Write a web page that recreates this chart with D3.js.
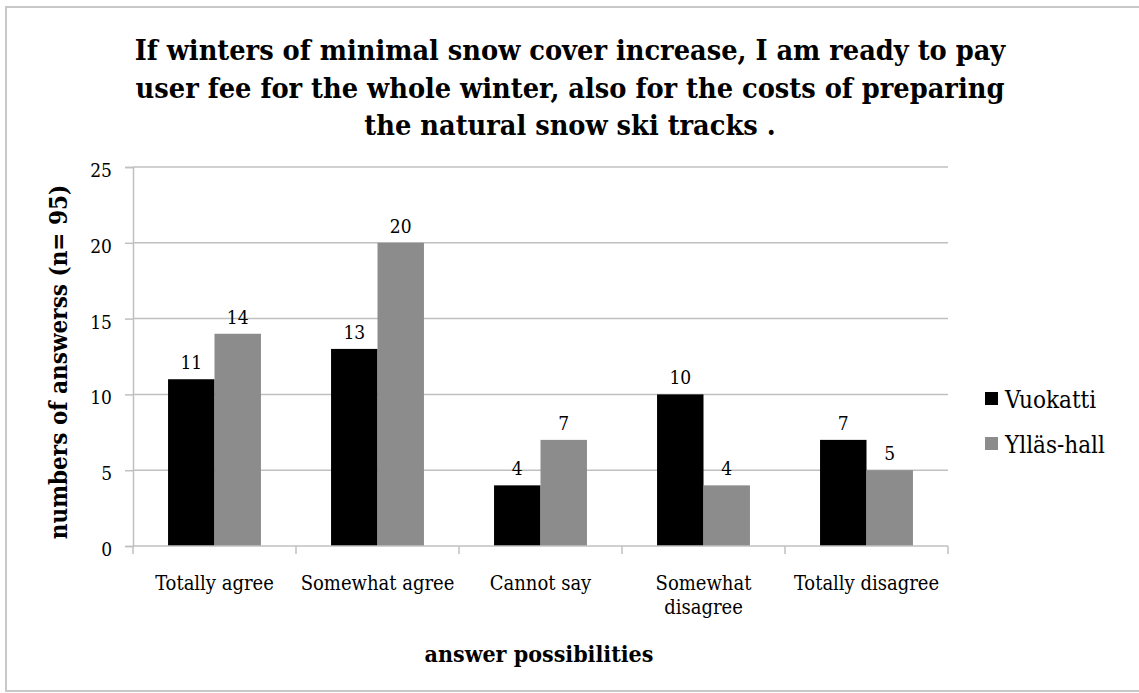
<!DOCTYPE html>
<html><head><meta charset="utf-8">
<script src="https://cdn.jsdelivr.net/npm/d3@7"></script>
<style>body{margin:0;background:#fff}svg{display:block}text{font-family:"DejaVu Serif Condensed","DejaVu Serif",serif;font-stretch:condensed}</style>
</head><body><svg id="c" width="1139" height="693"></svg>
<script>
const categories = [["Totally agree"],["Somewhat agree"],["Cannot say"],["Somewhat","disagree"],["Totally disagree"]];
const seriesNames = ["Vuokatti","Ylläs-hall"];
const vuokatti = [11,13,4,10,7];
const yllas = [14,20,7,4,5];
const yTicks = [0,5,10,15,20,25];
const titleLines = ["If winters of minimal snow cover increase, I am ready to pay","user fee for the whole winter, also for the costs of preparing","the natural snow ski tracks ."];
const colors = ["#000000","#8c8c8c"];

const svg = d3.select("#c");
svg.append("rect").attr("x",6).attr("y",7).attr("width",1140).attr("height",684).attr("fill","none").attr("stroke","#c8c8c8").attr("stroke-width",2);

const L=133,R=948,T=167,B=546;
const catKeys = categories.map(c=>c.join(" "));
const x = d3.scaleBand().domain(catKeys).range([L,R]).paddingInner(0.43).paddingOuter(0.215);
const xs = d3.scaleBand().domain(seriesNames).range([0,x.bandwidth()]);
const y = d3.scaleLinear().domain([0,25]).range([B,T]);

svg.append("g").selectAll("line").data(yTicks.filter(d=>d>0)).join("line")
 .attr("x1",L).attr("x2",R).attr("y1",d=>y(d)).attr("y2",d=>y(d)).attr("stroke","#c0c0c0").attr("stroke-width",1.5);

const ya = svg.append("g").attr("transform",`translate(${L},0)`).call(d3.axisLeft(y).tickValues(yTicks).tickSize(8).tickPadding(13));
ya.select(".domain").attr("stroke","#c0c0c0").attr("stroke-width",1.5);
ya.selectAll(".tick line").attr("stroke","#c0c0c0").attr("stroke-width",1.5);
ya.selectAll(".tick text").attr("font-size",19).attr("fill","#000").attr("dy","0.5em").style("font-family","DejaVu Serif Condensed");

const data = catKeys.map((k,i)=>({k, vals:[vuokatti[i],yllas[i]]}));
const g = svg.append("g").selectAll("g").data(data).join("g").attr("transform",d=>`translate(${x(d.k)},0)`);
g.selectAll("rect").data(d=>d.vals.map((v,j)=>({s:seriesNames[j],v,j}))).join("rect")
 .attr("x",d=>xs(d.s)).attr("width",xs.bandwidth()).attr("y",d=>y(d.v)).attr("height",d=>B-y(d.v)).attr("fill",d=>colors[d.j]);
g.selectAll("text").data(d=>d.vals.map((v,j)=>({s:seriesNames[j],v,j}))).join("text")
 .attr("x",d=>xs(d.s)+xs.bandwidth()/2).attr("y",d=>y(d.v)-10).attr("text-anchor","middle").attr("font-size",19).text(d=>d.v);

const xa = svg.append("g").attr("transform",`translate(0,${B})`);
xa.append("line").attr("x1",L).attr("x2",R).attr("stroke","#c0c0c0").attr("stroke-width",1.5);
const step = x.step();
xa.selectAll("line.t").data(d3.range(catKeys.length+1)).join("line").attr("class","t")
 .attr("x1",i=>L+i*step).attr("x2",i=>L+i*step).attr("y1",0).attr("y2",8).attr("stroke","#c0c0c0").attr("stroke-width",1.5);
xa.selectAll("text").data(categories).join("text")
 .attr("text-anchor","middle").attr("font-size",20)
 .attr("transform",(d,i)=>`translate(${x(catKeys[i])+x.bandwidth()/2},44)`)
 .selectAll("tspan").data(d=>d).join("tspan").attr("x",0).attr("dy",(d,i)=>i?24:0).text(d=>d);

svg.append("text").attr("text-anchor","middle").attr("font-size",28.6).attr("font-weight","bold")
 .selectAll("tspan").data(titleLines).join("tspan").attr("x",570).attr("y",(d,i)=>60+i*37.5).text(d=>d);
svg.append("text").attr("x",539).attr("y",662).attr("text-anchor","middle").attr("font-size",23).attr("font-weight","bold").text("answer possibilities");
svg.append("text").attr("transform","translate(67,362) rotate(-90)").attr("text-anchor","middle").attr("font-size",24).attr("font-weight","bold").text("numbers of answerss (n= 95)");

const lg = svg.append("g").selectAll("g").data(seriesNames).join("g").attr("transform",(d,i)=>`translate(985,${408+i*45})`);
lg.append("rect").attr("x",0).attr("y",-16).attr("width",13).attr("height",13).attr("fill",(d,i)=>colors[i]);
lg.append("text").attr("x",20).attr("y",0).attr("font-size",24).text(d=>d);
</script></body></html>
